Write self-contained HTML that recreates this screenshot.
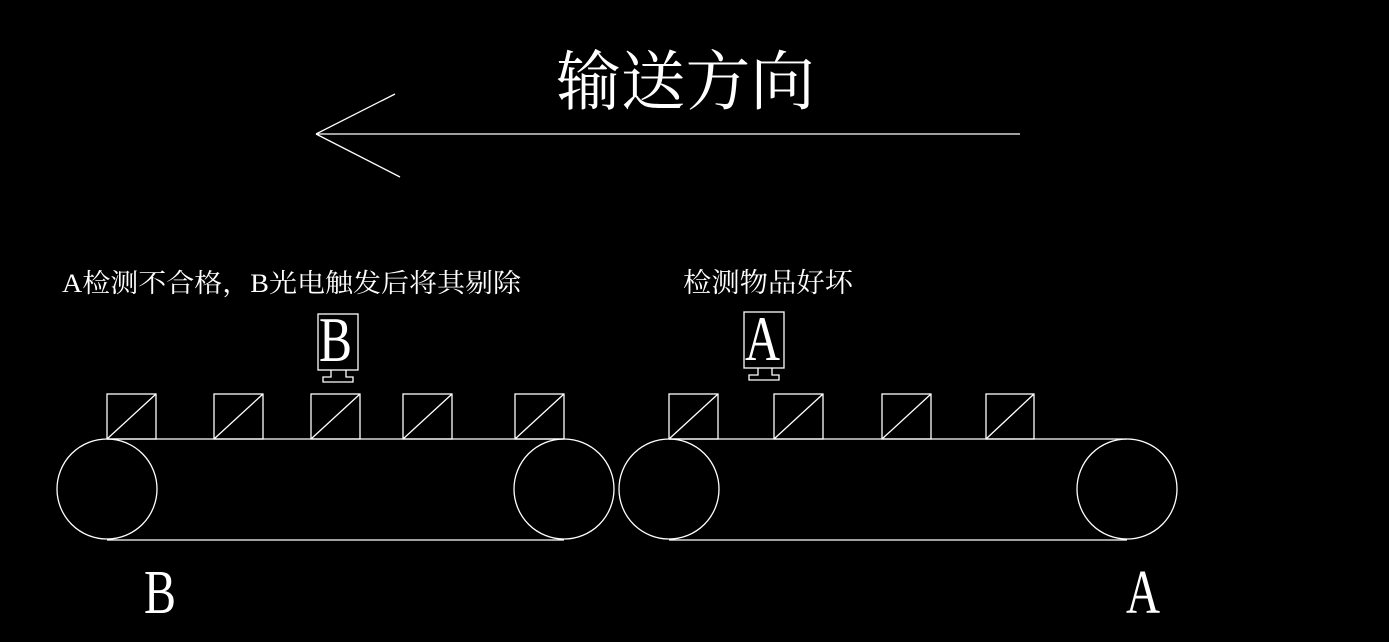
<!DOCTYPE html>
<html><head><meta charset="utf-8"><style>
html,body{margin:0;padding:0;background:#000;width:1389px;height:642px;overflow:hidden}
svg{display:block}
</style></head><body>
<svg width="1389" height="642" xmlns="http://www.w3.org/2000/svg">
<rect width="1389" height="642" fill="#000"/>
<g stroke="#fff" stroke-width="1.3" fill="none">
<line x1="316" y1="134" x2="1020" y2="134"/>
<line x1="316" y1="134" x2="395" y2="94"/>
<line x1="316" y1="134" x2="400" y2="177"/>
<!-- conveyors -->
<circle cx="107" cy="489" r="50"/><circle cx="564" cy="489" r="50"/>
<line x1="107" y1="439" x2="564" y2="439"/><line x1="107" y1="540" x2="564" y2="540"/>
<circle cx="669" cy="489" r="50"/><circle cx="1127" cy="489" r="50"/>
<line x1="669" y1="439" x2="1127" y2="439"/><line x1="669" y1="540" x2="1127" y2="540"/>
<!-- boxes -->
<rect x="107" y="394" width="49" height="45"/><line x1="107" y1="439" x2="156" y2="394"/>
<rect x="214" y="394" width="49" height="45"/><line x1="214" y1="439" x2="263" y2="394"/>
<rect x="311" y="394" width="49" height="45"/><line x1="311" y1="439" x2="360" y2="394"/>
<rect x="403" y="394" width="49" height="45"/><line x1="403" y1="439" x2="452" y2="394"/>
<rect x="515" y="394" width="49" height="45"/><line x1="515" y1="439" x2="564" y2="394"/>
<rect x="669" y="394" width="49" height="45"/><line x1="669" y1="439" x2="718" y2="394"/>
<rect x="774" y="394" width="49" height="45"/><line x1="774" y1="439" x2="823" y2="394"/>
<rect x="882" y="394" width="49" height="45"/><line x1="882" y1="439" x2="931" y2="394"/>
<rect x="986" y="394" width="48" height="45"/><line x1="986" y1="439" x2="1034" y2="394"/>
<!-- sensors -->
<rect x="318" y="314" width="40" height="56"/>
<polyline points="331,370 331,377 323,377 323,382 353,382 353,377 346,377 346,370"/>
<rect x="744" y="312" width="40" height="56"/>
<polyline points="758,368 758,375 749,375 749,380 779,380 779,375 772,375 772,368"/>
</g>
<g fill="#fff">
<text x="556" y="104" font-size="65" textLength="259" lengthAdjust="spacingAndGlyphs" font-family="'Noto Serif CJK SC','Noto Sans CJK SC',serif">输送方向</text>
<text x="62" y="292" font-size="26" textLength="459" lengthAdjust="spacingAndGlyphs" font-family="'Liberation Serif','Noto Serif CJK SC',serif">A检测不合格，B光电触发后将其剔除</text>
<text x="683" y="292" font-size="27" textLength="170" lengthAdjust="spacingAndGlyphs" font-family="'Liberation Serif','Noto Serif CJK SC',serif">检测物品好坏</text>
<text x="319" y="361" font-size="64" textLength="33" lengthAdjust="spacingAndGlyphs" font-family="'Liberation Serif',serif">B</text>
<text x="745" y="360" font-size="64" textLength="35" lengthAdjust="spacingAndGlyphs" font-family="'Liberation Serif',serif">A</text>
<text x="144" y="613" font-size="62" textLength="32" lengthAdjust="spacingAndGlyphs" font-family="'Liberation Serif',serif">B</text>
<text x="1126" y="613" font-size="62" textLength="34" lengthAdjust="spacingAndGlyphs" font-family="'Liberation Serif',serif">A</text>
</g>
</svg>
</body></html>
